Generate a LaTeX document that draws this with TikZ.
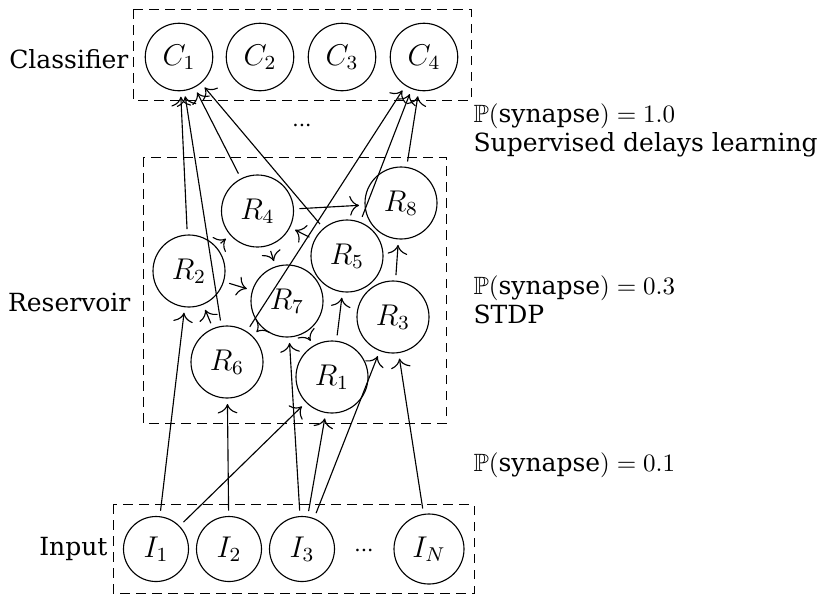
\documentclass[tikz,border=0pt]{standalone}
\usepackage{amsmath,amssymb}
\usepackage{fontspec}
\setmainfont{DejaVu Serif}
\usetikzlibrary{arrows.meta}
\begin{document}
\begin{tikzpicture}[x=0.4pt,y=-0.4pt,line width=0.45pt,
  neuron/.style={circle,draw,inner sep=0pt,outer sep=2.4pt,font=\fontsize{11.5}{13}\selectfont},
  rnode/.style={neuron,minimum size=28.8pt},
  cnode/.style={neuron,minimum size=27pt},
  inode/.style={neuron,minimum size=26pt},
  group/.style={draw,dash pattern=on 3.8pt off 2.6pt,line width=0.4pt},
  syn/.style={-{To[scale=1.45]}},
  lbl/.style={font=\fontsize{10}{12}\selectfont,inner sep=0pt},
  dotlbl/.style={font=\fontsize{8}{10}\selectfont,inner sep=0pt}]
\useasboundingbox (0,0) rectangle (827,595);
% groups
\draw[group] (133,9) rectangle (471,100);
\draw[group] (143,157) rectangle (446,423);
\draw[group] (113,504) rectangle (474,593);
% classifier
\node[cnode] (C1) at (179,57) {$C_1$};
\node[cnode] (C2) at (260,57) {$C_2$};
\node[cnode] (C3) at (342,57) {$C_3$};
\node[cnode] (C4) at (424,57) {$C_4$};
% reservoir
\node[rnode] (R1) at (332,377) {$R_1$};
\node[rnode] (R2) at (189,271) {$R_2$};
\node[rnode] (R3) at (393,317) {$R_3$};
\node[rnode] (R4) at (257.5,211) {$R_4$};
\node[rnode] (R5) at (347,256) {$R_5$};
\node[rnode] (R6) at (227,362) {$R_6$};
\node[rnode] (R7) at (287,301) {$R_7$};
\node[rnode] (R8) at (401,203) {$R_8$};
% input
\node[inode] (I1) at (156,549) {$I_1$};
\node[inode] (I2) at (229,549) {$I_2$};
\node[inode] (I3) at (302,549) {$I_3$};
\node[neuron,minimum size=28pt] (IN) at (429,549) {$I_N$};
\node[dotlbl,anchor=base] (idots) at (364,551) {...};
\node[dotlbl,anchor=base] (cdots) at (302,126) {...};
% labels
\node[lbl,anchor=base east] (lclass) at (129,68) {Classifier};
\node[lbl,anchor=base east] (lres) at (131,311) {Reservoir};
\node[lbl,anchor=base east] (linp) at (108,555) {Input};
\node[lbl,anchor=base west] (pa) at (473,122) {$\mathbb{P}(\text{synapse}) = 1.0$};
\node[lbl,anchor=base west] (pb) at (473,151) {Supervised delays learning};
\node[lbl,anchor=base west] (pc) at (473,294) {$\mathbb{P}(\text{synapse}) = 0.3$};
\node[lbl,anchor=base west] (pd) at (473,323) {STDP};
\node[lbl,anchor=base west] (pe) at (473,471) {$\mathbb{P}(\text{synapse}) = 0.1$};
% reservoir to classifier
\draw[syn] (R2) -- (C1);
\draw[syn] (R6) -- (C1);
\draw[syn] (R4) -- (C1);
\draw[syn] (R5) -- (C1);
\draw[syn] (R6) -- (C4);
\draw[syn] (R5) -- (C4);
\draw[syn] (R8) -- (C4);
% recurrent
\draw[syn] (R4) -- (R8);
\draw[syn] (R5) -- (R4);
\draw[syn] (R4) -- (R7);
\draw[syn] (R2) -- (R4);
\draw[syn] (R2) -- (R7);
\draw[syn] (R6) -- (R2);
\draw[syn] (R7) -- (R6);
\draw[syn] (R7) -- (R1);
\draw[syn] (R1) -- (R5);
\draw[syn] (R3) -- (R8);
% input to reservoir
\draw[syn] (I1) -- (R2);
\draw[syn] (I1) -- (R1);
\draw[syn] (I2) -- (R6);
\draw[syn] (I3) -- (R7);
\draw[syn] (I3) -- (R1);
\draw[syn] (I3) -- (R3);
\draw[syn] (IN) -- (R3);
\end{tikzpicture}
\end{document}
